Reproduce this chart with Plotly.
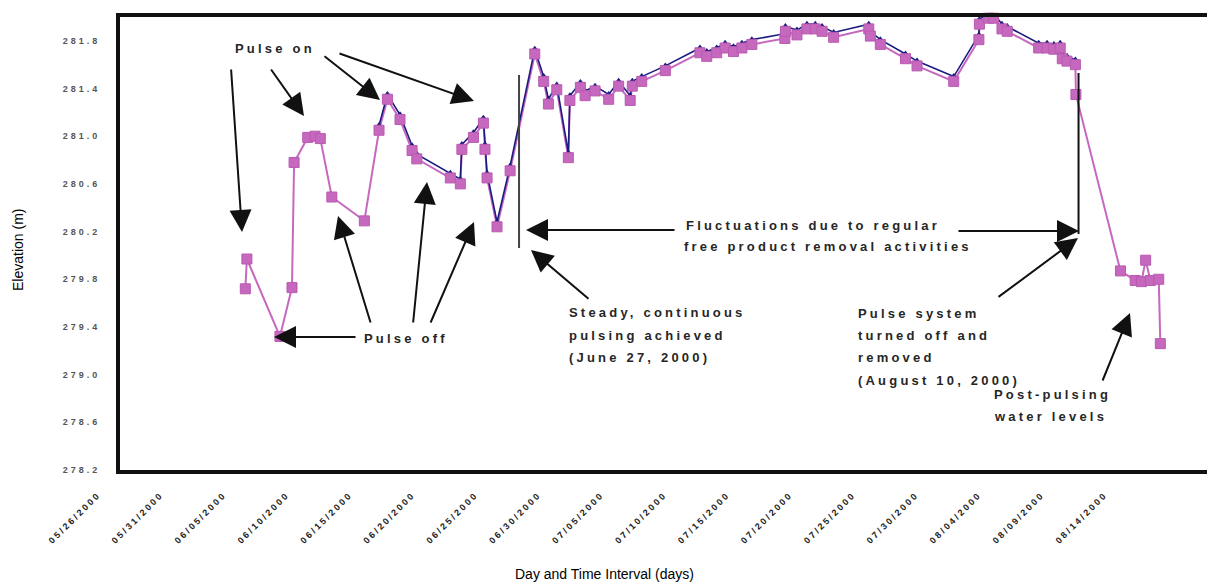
import plotly.graph_objects as go

# ---------------- data ----------------
dates = [
    "2000-06-04 23:00", "2000-06-05 02:00", "2000-06-07 17:00", "2000-06-08 16:00", "2000-06-08 20:00",
    "2000-06-09 22:00", "2000-06-10 12:00", "2000-06-10 22:00", "2000-06-11 20:00", "2000-06-14 10:00",
    "2000-06-15 14:00", "2000-06-16 06:00", "2000-06-17 06:00", "2000-06-18 05:00", "2000-06-18 14:00",
    "2000-06-21 06:00", "2000-06-22 01:00", "2000-06-22 04:00", "2000-06-23 02:00", "2000-06-23 21:00",
    "2000-06-24 00:00", "2000-06-24 04:00", "2000-06-24 23:00", "2000-06-26 00:00", "2000-06-27 23:00",
    "2000-06-28 16:00", "2000-06-29 01:00", "2000-06-29 17:00", "2000-06-30 15:00", "2000-06-30 18:00",
    "2000-07-01 14:00", "2000-07-01 23:00", "2000-07-02 18:00", "2000-07-03 20:00", "2000-07-04 15:00",
    "2000-07-05 13:00", "2000-07-05 17:00", "2000-07-06 11:00", "2000-07-08 08:00", "2000-07-11 02:00",
    "2000-07-11 15:00", "2000-07-12 10:00", "2000-07-13 02:00", "2000-07-13 18:00", "2000-07-14 10:00",
    "2000-07-15 05:00", "2000-07-17 20:00", "2000-07-17 21:00", "2000-07-18 19:00", "2000-07-19 14:00",
    "2000-07-20 06:00", "2000-07-20 19:00", "2000-07-21 17:00", "2000-07-24 12:00", "2000-07-24 15:00",
    "2000-07-25 10:00", "2000-07-27 10:00", "2000-07-28 08:00", "2000-07-31 06:00", "2000-08-02 06:00",
    "2000-08-02 07:00", "2000-08-03 00:00", "2000-08-03 10:00", "2000-08-04 02:00", "2000-08-04 12:00",
    "2000-08-07 00:00", "2000-08-07 16:00", "2000-08-08 05:00", "2000-08-08 17:00", "2000-08-08 21:00",
    "2000-08-09 06:00", "2000-08-09 22:00", "2000-08-09 23:00", "2000-08-13 12:00", "2000-08-14 16:00",
    "2000-08-15 04:00", "2000-08-15 12:00", "2000-08-15 21:00", "2000-08-16 13:00", "2000-08-16 16:00",
]

pink_values = [
    279.72, 279.97, 279.32, 279.73, 280.78, 280.99, 281.00, 280.98, 280.49, 280.29,
    281.05, 281.31, 281.14, 280.88, 280.81, 280.65, 280.60, 280.89, 280.99, 281.11,
    280.89, 280.65, 280.24, 280.71, 281.69, 281.46, 281.27, 281.39, 280.82, 281.30,
    281.41, 281.34, 281.38, 281.31, 281.42, 281.30, 281.42, 281.46, 281.55, 281.70,
    281.67, 281.70, 281.74, 281.71, 281.74, 281.77, 281.82, 281.88, 281.85, 281.90,
    281.90, 281.88, 281.83, 281.90, 281.84, 281.77, 281.65, 281.59, 281.46, 281.81,
    281.94, 281.99, 281.99, 281.90, 281.88, 281.74, 281.74, 281.73, 281.74, 281.65,
    281.63, 281.60, 281.35, 279.87, 279.79, 279.78, 279.96, 279.79, 279.80, 279.26,
]

# second (navy) series, recorded over the pulsing period only
blue_first, blue_last = 10, 72
blue_values = [
    281.09, 281.35, 281.18, 280.92, 280.85, 280.69, 280.64, 280.93, 281.03, 281.15,
    280.93, 280.69, 280.28, 280.75, 281.73, 281.50, 281.31, 281.43, 280.86, 281.34,
    281.45, 281.38, 281.42, 281.35, 281.46, 281.34, 281.46, 281.50, 281.59, 281.74,
    281.71, 281.74, 281.78, 281.75, 281.78, 281.81, 281.86, 281.92, 281.89, 281.94,
    281.94, 281.92, 281.87, 281.94, 281.88, 281.81, 281.69, 281.63, 281.50, 281.85,
    281.98, 282.03, 282.03, 281.94, 281.92, 281.78, 281.78, 281.77, 281.78, 281.69,
    281.67, 281.64,
]

tick_dates = [
    "2000-05-26", "2000-05-31", "2000-06-05", "2000-06-10", "2000-06-15", "2000-06-20",
    "2000-06-25", "2000-06-30", "2000-07-05", "2000-07-10", "2000-07-15", "2000-07-20",
    "2000-07-25", "2000-07-30", "2000-08-04", "2000-08-09", "2000-08-14",
]
tick_labels = [
    "05/26/2000", "05/31/2000", "06/05/2000", "06/10/2000", "06/15/2000", "06/20/2000",
    "06/25/2000", "06/30/2000", "07/05/2000", "07/10/2000", "07/15/2000", "07/20/2000",
    "07/25/2000", "07/30/2000", "08/04/2000", "08/09/2000", "08/14/2000",
]
y_tick_vals = [278.2, 278.6, 279.0, 279.4, 279.8, 280.2, 280.6, 281.0, 281.4, 281.8]
y_tick_labels = ["278.2", "278.6", "279.0", "279.4", "279.8", "280.2", "280.6", "281.0", "281.4", "281.8"]

# ---------------- styling ----------------
PINK = "#C768BF"
NAVY = "#1A1A80"
TXT = "#262626"
FONT = "Liberation Sans, Arial, sans-serif"

W, H = 1208, 584
L, R, T, B = 120, 1, 17, 114
PW, PH = W - L - R, H - T - B


def px(x):
    return (x - L) / PW


def py(y):
    return (H - B - y) / PH


def spaced(s, sp=2):
    return "<span style='letter-spacing:%spx'>%s</span>" % (sp, s)


fig = go.Figure()
fig.add_trace(go.Scatter(x=dates, y=pink_values, mode="lines",
                         line=dict(color=PINK, width=2), cliponaxis=False, hoverinfo="skip"))
fig.add_trace(go.Scatter(x=dates[blue_first:blue_last], y=blue_values, mode="lines+markers",
                         line=dict(color=NAVY, width=1.6),
                         marker=dict(symbol="triangle-up", size=7, color=NAVY),
                         cliponaxis=False))
fig.add_trace(go.Scatter(x=dates, y=pink_values, mode="markers",
                         marker=dict(symbol="square", size=10, color=PINK,
                                     line=dict(color="#B85AB0", width=1)),
                         cliponaxis=False))

# ---------------- annotations ----------------
ann = []
# text blocks: (text, left x px, center y px)
texts = [
    ("Pulse on", 233, 48),
    ("Pulse off", 362, 338),
    ("Fluctuations due to regular", 684, 225),
    ("free product removal activities", 682, 247),
    ("Steady, continuous", 567, 312),
    ("pulsing achieved", 567, 335),
    ("(June 27, 2000)", 567, 357),
    ("Pulse system", 856, 313),
    ("turned off and", 856, 335),
    ("removed", 856, 357),
    ("(August 10, 2000)", 856, 380),
    ("Post-pulsing", 992, 394),
    ("water levels", 992, 416),
]
for t, x, y in texts:
    ann.append(dict(text=spaced(t, 3.2), x=px(x), y=py(y), xref="paper", yref="paper",
                    xanchor="left", yanchor="middle", showarrow=False,
                    font=dict(family=FONT, size=13, color=TXT, weight="bold")))

# arrows: (tip x, tip y, tail x, tail y)
arrows = [
    (242, 232, 231, 68), (304, 116, 270, 68), (380, 100, 323, 55), (474, 101, 338, 53),
    (274, 337, 357, 337), (338, 216, 371, 324), (427, 182, 413, 324), (474, 222, 430, 324),
    (526, 230, 676, 230), (1079, 231, 957, 231), (531, 250, 590, 300),
    (1078, 238, 997, 298), (1130, 313, 1102, 382),
]
for tx, ty, sx, sy in arrows:
    ann.append(dict(text="", x=px(tx), y=py(ty), xref="paper", yref="paper",
                    ax=sx - tx, ay=sy - ty, showarrow=True, arrowhead=2,
                    arrowsize=2.2, arrowwidth=2, arrowcolor="#111111", standoff=0))

# axis titles
ann.append(dict(text="Elevation (m)", x=px(18), y=py(250), xref="paper", yref="paper",
                xanchor="center", yanchor="middle",
                textangle=-90, showarrow=False, font=dict(family=FONT, size=14, color="#000")))
ann.append(dict(text="Day and Time Interval (days)", x=px(604), y=py(574), xref="paper",
                yref="paper", xanchor="center", yanchor="middle",
                showarrow=False, font=dict(family=FONT, size=14, color="#000")))

shapes = [
    dict(type="line", xref="x", yref="paper", x0="2000-06-26 17:00", x1="2000-06-26 17:00",
         y0=py(75), y1=py(248), line=dict(color="#444444", width=2)),
    dict(type="line", xref="x", yref="paper", x0="2000-08-10 04:00", x1="2000-08-10 04:00",
         y0=py(73), y1=py(234), line=dict(color="#111111", width=2)),
]

fig.update_layout(
    width=W, height=H, margin=dict(l=L, r=R, t=T, b=B, autoexpand=False),
    paper_bgcolor="white", plot_bgcolor="white", showlegend=False,
    font=dict(family=FONT),
    annotations=ann, shapes=shapes,
    xaxis=dict(range=["2000-05-26 00:00", "2000-08-20 09:00"], showgrid=False, zeroline=False,
               showline=True, linecolor="#111111", linewidth=4, mirror=True,
               tickmode="array", tickvals=tick_dates,
               ticktext=[spaced(t, 2.4) for t in tick_labels],
               tickangle=-45, ticks="", ticklabelshift=-22, ticklabelstandoff=12,
               tickfont=dict(family=FONT, size=9, color="#222222", weight="bold")),
    yaxis=dict(range=[278.2, 282.0], showgrid=False, zeroline=False,
               showline=True, linecolor="#111111", linewidth=4, mirror=False,
               tickmode="array", tickvals=y_tick_vals,
               ticktext=[spaced(t, 3) for t in y_tick_labels],
               ticks="", ticklabelstandoff=14,
               tickfont=dict(family=FONT, size=9, color="#555555", weight="bold")),
)

fig.write_html("out.html", config={"displayModeBar": False},
               post_script="document.body.style.margin='0';document.body.style.overflow='hidden';")
